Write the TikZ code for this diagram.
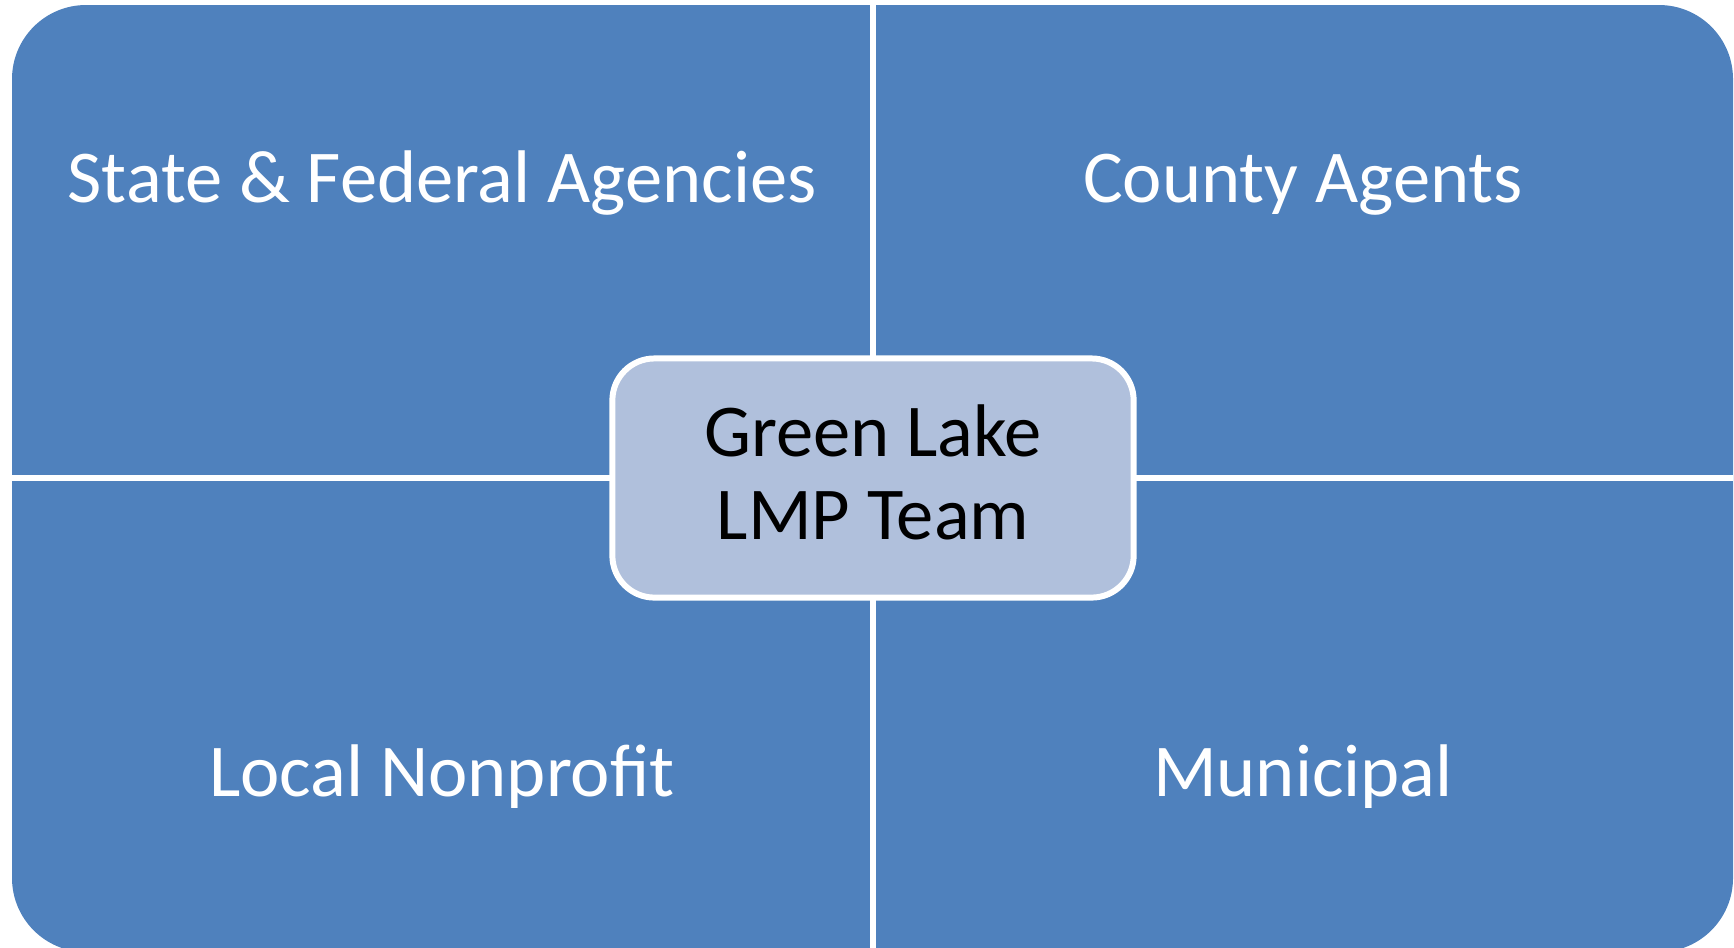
\documentclass[tikz,border=0pt]{standalone}
\usepackage{fontspec}
\setmainfont{Carlito}
\usetikzlibrary{shapes,positioning}
\definecolor{quadblue}{RGB}{79,129,189}
\definecolor{teamblue}{RGB}{176,192,220}
\tikzstyle{quad} = [fill=quadblue, rounded corners=0.74cm]
\tikzstyle{divider} = [draw=white, line width=1.7pt]
\tikzstyle{label} = [text=white, anchor=base, font=\fontsize{21.2}{24}\selectfont]
\tikzstyle{team} = [draw=white, fill=teamblue, line width=1.7pt, rectangle,
    rounded corners=0.42cm, minimum width=5.21cm, minimum height=2.39cm,
    align=center, text depth=0.11cm, font=\fontsize{21.2}{23.6}\selectfont]

\begin{document}
\begin{tikzpicture}[x=0.01cm, y=-0.01cm]
    \useasboundingbox (0,0) rectangle (1734,947);
    \clip (0,0) rectangle (1734,947);
    % We start by filling the background with its rounded outer corners
    \fill [quad] (12,5) rectangle (1733,952);
    % The four ends of the dividing lines
    \coordinate (top) at (873,0);
    \coordinate (bottom) at (873,952);
    \coordinate (left) at (12,478);
    \coordinate (right) at (1733,478);
    \draw [divider] (top) -- (bottom);
    \draw [divider] (left) -- (right);

    % Labels of the four quadrants
    \node [label] (state) at (442,202) {State \& Federal Agencies};
    \node [label] (county) at (1303,202) {County Agents};
    \node [label] (nonprofit) at (442,796) {Local Nonprofit};
    \node [label] (municipal) at (1303,796) {Municipal};

    % The team sits in the middle, on top of the lines
    \node [team] (lmp) at (873,478) {Green Lake\\LMP Team};
\end{tikzpicture}
\end{document}
